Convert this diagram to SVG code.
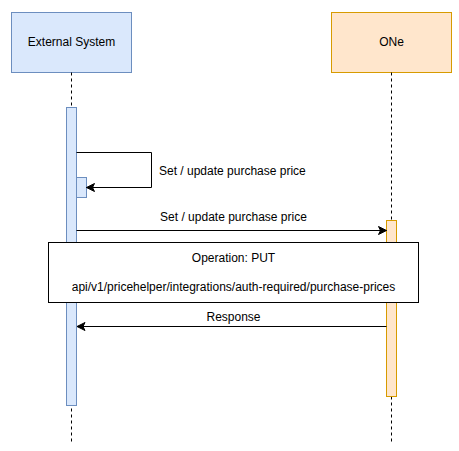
<svg xmlns="http://www.w3.org/2000/svg" width="459" height="451" viewBox="0 0 459 451">
<style>
text{font-family:"Liberation Sans",Arial,sans-serif;font-size:12px;fill:#000}
.blue{fill:#dae8fc;stroke:#6c8ebf;stroke-width:1}
.orange{fill:#ffe6cc;stroke:#d79b00;stroke-width:1}
.life{stroke:#000;stroke-width:1;stroke-dasharray:3 3;fill:none}
.msg{stroke:#000;stroke-width:1;fill:none}
</style>
<defs>
<marker id="arr" viewBox="0 0 10 10" refX="9" refY="5" markerWidth="10" markerHeight="10" markerUnits="userSpaceOnUse" orient="auto">
<path d="M1,1 L9,5 L1,9 L3,5 Z" fill="#000" stroke="#000" stroke-width="1"/>
</marker>
</defs>
<rect width="459" height="451" fill="#fff"/>
<g id="external-system">
<rect class="blue" x="11.5" y="12.5" width="120" height="60"/>
<text x="71.5" y="46" text-anchor="middle">External System</text>
<line class="life" x1="71.5" y1="72.5" x2="71.5" y2="442"/>
<rect class="blue" x="66.5" y="107.5" width="10" height="298"/>
<rect class="blue" x="76.5" y="177.5" width="10" height="20"/>
</g>
<g id="one">
<rect class="orange" x="331.5" y="12.5" width="120" height="60"/>
<text x="391.5" y="46" text-anchor="middle">ONe</text>
<line class="life" x1="391.5" y1="72.5" x2="391.5" y2="442"/>
<rect class="orange" x="386.5" y="220.5" width="10" height="176"/>
</g>
<g id="operation">
<rect x="48.5" y="242.5" width="370" height="60" fill="#fff" stroke="#000"/>
<text x="233.5" y="262" text-anchor="middle">Operation: PUT</text>
<text x="233.5" y="291" text-anchor="middle">api/v1/pricehelper/integrations/auth-required/purchase-prices</text>
</g>
<g id="connectors">
<path class="msg" d="M76.5,152.5 H151.5 V187.5 H86.5" marker-end="url(#arr)"/>
<text x="159" y="175">Set / update purchase price</text>
<line class="msg" x1="76.5" y1="230.5" x2="386.5" y2="230.5" marker-end="url(#arr)"/>
<text x="233.5" y="221" text-anchor="middle">Set / update purchase price</text>
<line class="msg" x1="386.5" y1="326.5" x2="77" y2="326.5" marker-end="url(#arr)"/>
<text x="233.5" y="321" text-anchor="middle">Response</text>
</g>
</svg>
